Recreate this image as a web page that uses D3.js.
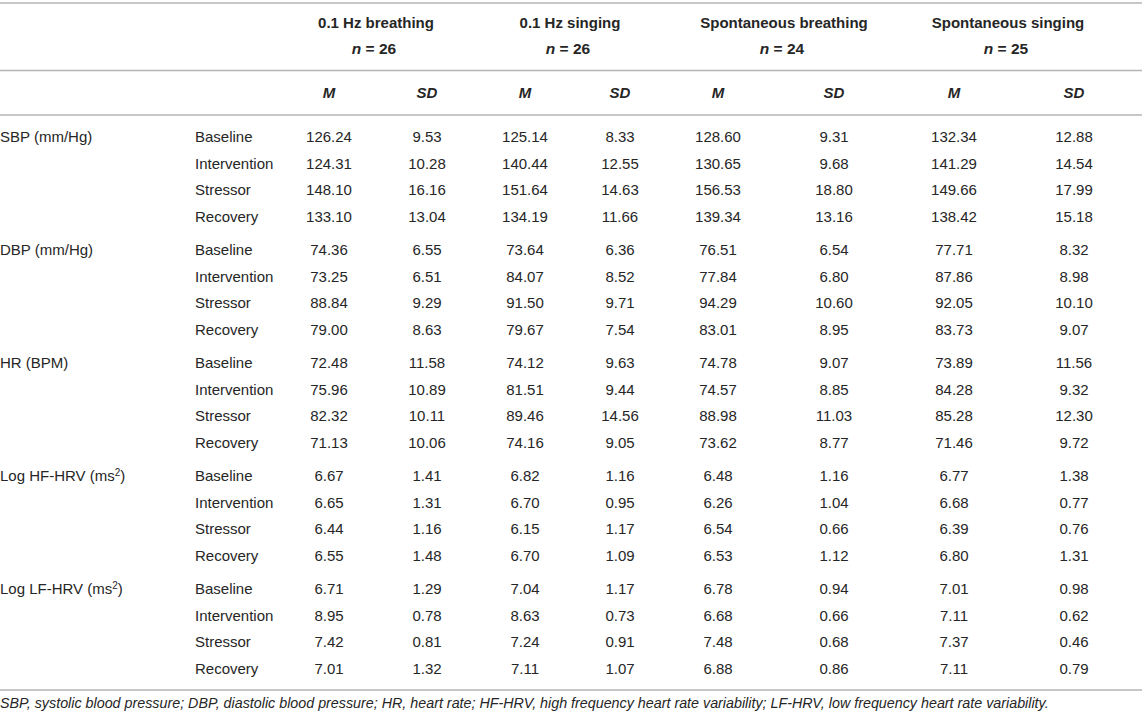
<!DOCTYPE html>
<html>
<head>
<meta charset="utf-8">
<script src="https://cdn.jsdelivr.net/npm/d3@7"></script>
<style>
  body { margin: 0; background: #fff; }
  svg text { font-family: "Liberation Sans", Arial, Helvetica, sans-serif; fill: #262626; }
</style>
</head>
<body>
<div id="table"></div>
<script>
// Table values
var measures = ["SBP (mm/Hg)", "DBP (mm/Hg)", "HR (BPM)", "Log HF-HRV (ms", "Log LF-HRV (ms"];
var measureSup = ["", "", "", "2", "2"];
var phases = ["Baseline", "Intervention", "Stressor", "Recovery"];
var conditions = ["0.1 Hz breathing", "0.1 Hz singing", "Spontaneous breathing", "Spontaneous singing"];
var sampleSizes = [26, 26, 24, 25];

// one array per condition: M then SD, rows = measure x phase
var breath01M  = ["126.24","124.31","148.10","133.10","74.36","73.25","88.84","79.00","72.48","75.96","82.32","71.13","6.67","6.65","6.44","6.55","6.71","8.95","7.42","7.01"];
var breath01SD = ["9.53","10.28","16.16","13.04","6.55","6.51","9.29","8.63","11.58","10.89","10.11","10.06","1.41","1.31","1.16","1.48","1.29","0.78","0.81","1.32"];
var sing01M    = ["125.14","140.44","151.64","134.19","73.64","84.07","91.50","79.67","74.12","81.51","89.46","74.16","6.82","6.70","6.15","6.70","7.04","8.63","7.24","7.11"];
var sing01SD   = ["8.33","12.55","14.63","11.66","6.36","8.52","9.71","7.54","9.63","9.44","14.56","9.05","1.16","0.95","1.17","1.09","1.17","0.73","0.91","1.07"];
var spBreathM  = ["128.60","130.65","156.53","139.34","76.51","77.84","94.29","83.01","74.78","74.57","88.98","73.62","6.48","6.26","6.54","6.53","6.78","6.68","7.48","6.88"];
var spBreathSD = ["9.31","9.68","18.80","13.16","6.54","6.80","10.60","8.95","9.07","8.85","11.03","8.77","1.16","1.04","0.66","1.12","0.94","0.66","0.68","0.86"];
var spSingM    = ["132.34","141.29","149.66","138.42","77.71","87.86","92.05","83.73","73.89","84.28","85.28","71.46","6.77","6.68","6.39","6.80","7.01","7.11","7.37","7.11"];
var spSingSD   = ["12.88","14.54","17.99","15.18","8.32","8.98","10.10","9.07","11.56","9.32","12.30","9.72","1.38","0.77","0.76","1.31","0.98","0.62","0.46","0.79"];

var footnote = "SBP, systolic blood pressure; DBP, diastolic blood pressure; HR, heart rate; HF-HRV, high frequency heart rate variability; LF-HRV, low frequency heart rate variability.";

const width = 1142
const height = 717

var svg = d3.select('#table')
  .append('svg')
  .attr('width', width)
  .attr('height', height)
  .attr('viewBox', [0, 0, width, height])

var columns = [breath01M, breath01SD, sing01M, sing01SD, spBreathM, spBreathSD, spSingM, spSingSD]

// Horizontal placement: column centres for the 8 value columns, and group header centres
var colX = d3.scaleOrdinal()
  .domain(d3.range(8))
  .range([329, 427, 525, 620, 718, 834, 954, 1074])
var headX = d3.scaleOrdinal()
  .domain(conditions)
  .range([376, 570, 784, 1008])

// Vertical placement: measure groups, then phases inside each group
var groupY = d3.scaleLinear().domain([0, measures.length - 1]).range([137, 589])
var phaseY = d3.scaleLinear().domain([0, phases.length - 1]).range([0, 79.5])

function rowY(i) {
  return groupY(Math.floor(i / phases.length)) + phaseY(i % phases.length)
}

// Rules
svg.selectAll('line.rule')
  .data([3, 70.5, 115, 690])
  .enter().append('line')
  .attr('class', 'rule')
  .attr('x1', 0).attr('x2', width)
  .attr('y1', d => d).attr('y2', d => d)
  .attr('stroke', '#b4b4b4')
  .attr('stroke-width', 1.6)

// Header: condition names and n
var heads = svg.selectAll('g.head')
  .data(conditions)
  .enter().append('g')
  .attr('class', 'head')

heads.append('text')
  .attr('x', d => headX(d))
  .attr('y', 23)
  .attr('dy', '0.35em')
  .attr('text-anchor', 'middle')
  .attr('font-size', 15)
  .attr('font-weight', 'bold')
  .text(d => d)

heads.append('text')
  .attr('x', d => headX(d) - 2)
  .attr('y', 49)
  .attr('dy', '0.35em')
  .attr('text-anchor', 'middle')
  .attr('font-size', 15.5)
  .attr('font-weight', 'bold')
  .each(function (d, i) {
    var t = d3.select(this)
    t.append('tspan').attr('font-style', 'italic').text('n')
    t.append('tspan').text(' = ' + sampleSizes[i])
  })

// M / SD sub-header
svg.selectAll('text.stat')
  .data(d3.range(8))
  .enter().append('text')
  .attr('class', 'stat')
  .attr('x', d => colX(d))
  .attr('y', 93)
  .attr('dy', '0.35em')
  .attr('text-anchor', 'middle')
  .attr('font-size', 15)
  .attr('font-weight', 'bold')
  .attr('font-style', 'italic')
  .text(d => (d % 2 === 0 ? 'M' : 'SD'))

// Measure labels (first column)
svg.selectAll('text.measure')
  .data(measures)
  .enter().append('text')
  .attr('class', 'measure')
  .attr('x', 0)
  .attr('y', (d, i) => groupY(i))
  .attr('dy', '0.35em')
  .attr('font-size', 15)
  .each(function (d, i) {
    var t = d3.select(this)
    t.append('tspan').text(d)
    if (measureSup[i]) {
      t.append('tspan').attr('font-size', 10).attr('dy', '-0.55em').text(measureSup[i])
      t.append('tspan').attr('dy', '0.35em').text(')')
    }
  })

// Phase labels (second column)
var rows = d3.range(measures.length * phases.length)
svg.selectAll('text.phase')
  .data(rows)
  .enter().append('text')
  .attr('class', 'phase')
  .attr('x', 195)
  .attr('y', d => rowY(d))
  .attr('dy', '0.35em')
  .attr('font-size', 15)
  .text(d => phases[d % phases.length])

// Values
columns.forEach(function (col, c) {
  svg.selectAll('text.v' + c)
    .data(col)
    .enter().append('text')
    .attr('class', 'v' + c)
    .attr('x', colX(c))
    .attr('y', (d, i) => rowY(i))
    .attr('dy', '0.35em')
    .attr('text-anchor', 'middle')
    .attr('font-size', 15)
    .text(d => d)
})

// Footnote
svg.append('text')
  .attr('x', 0)
  .attr('y', 703)
  .attr('dy', '0.35em')
  .attr('font-size', 14.3)
  .attr('font-style', 'italic')
  .text(footnote)
</script>
</body>
</html>
